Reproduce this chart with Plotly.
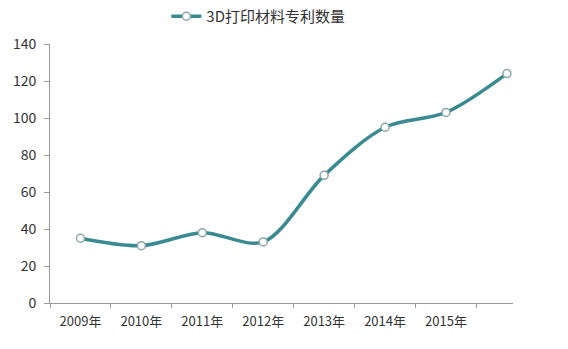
import plotly.graph_objects as go

years = ["2009年", "2010年", "2011年", "2012年", "2013年", "2014年", "2015年"]
values = [35, 31, 38, 33, 69, 95, 103, 124]
series_name = "3D打印材料专利数量"
y_ticks = [0, 20, 40, 60, 80, 100, 120, 140]

x_pos = list(range(len(values)))

fig = go.Figure()
fig.add_trace(go.Scatter(
    x=x_pos, y=values, name=series_name, mode="lines+markers",
    line=dict(color="#3A8A92", width=3.5, shape="spline", smoothing=0.9),
    marker=dict(size=8, color="white", line=dict(color="#8AA6A8", width=1.5)),
))

font_family = "Noto Sans CJK SC, Noto Sans, sans-serif"
fig.update_layout(
    width=568, height=349,
    margin=dict(l=50, r=55, t=44, b=46, autoexpand=False),
    paper_bgcolor="white", plot_bgcolor="white",
    font=dict(family=font_family, color="#333333", size=13),
    showlegend=True,
    legend=dict(orientation="h", x=0.45, xanchor="center", y=1.0, yanchor="top",
                yref="container", font=dict(size=15, color="#333333"),
                itemwidth=30),
    xaxis=dict(
        range=[-0.5, 7.1], tickvals=list(range(len(years))), ticktext=years,
        showgrid=False, zeroline=False, showline=True, linecolor="#999999", linewidth=1,
        ticks="", tickfont=dict(size=13, color="#333333"), ticklabelstandoff=6,
        minor=dict(tick0=-0.5, dtick=1, ticks="outside", ticklen=4, tickcolor="#999999"),
    ),
    yaxis=dict(
        range=[0, 140], tickvals=y_ticks, showgrid=False, zeroline=False,
        showline=True, linecolor="#999999", linewidth=1,
        ticks="outside", ticklen=5, tickcolor="#999999",
        tickfont=dict(size=14, color="#333333"), ticklabelstandoff=5,
    ),
)

fig.write_html("out.html")
